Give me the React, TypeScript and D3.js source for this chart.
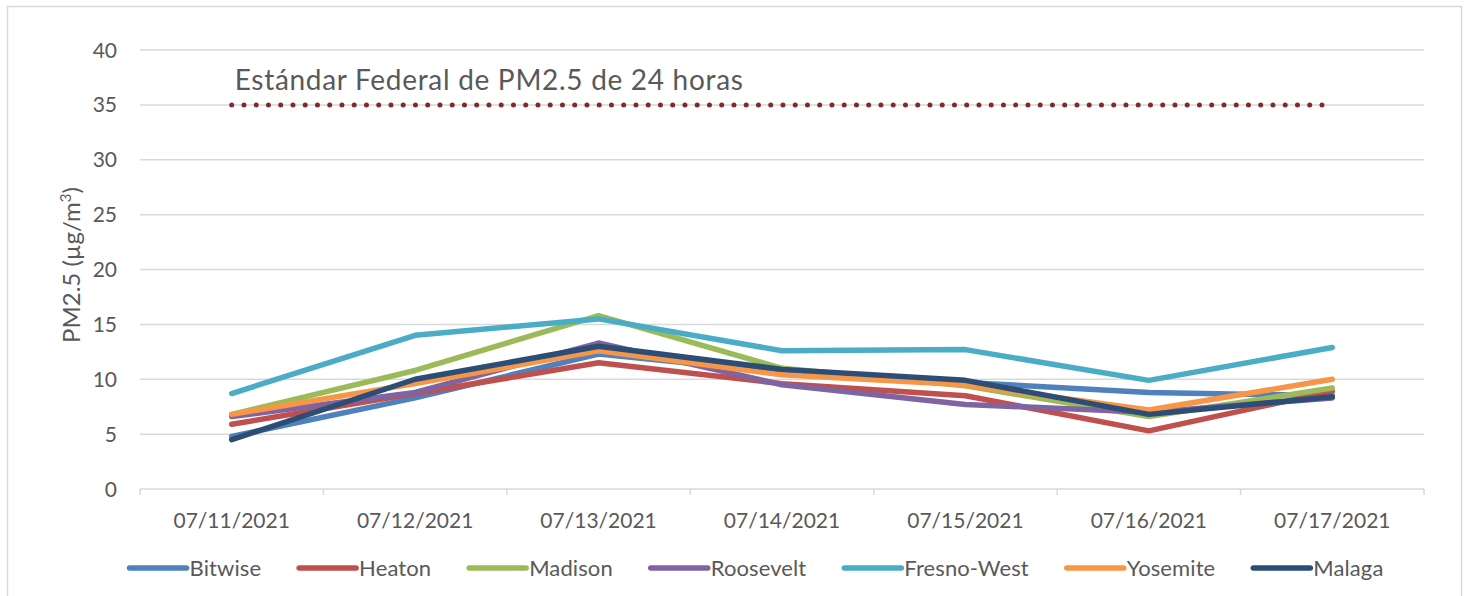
import React, { useRef, useEffect } from 'react';
import { select, scalePoint, scaleLinear, line, range } from 'd3';

const dates = ['07/11/2021', '07/12/2021', '07/13/2021', '07/14/2021', '07/15/2021', '07/16/2021', '07/17/2021'];
const yTicks = [0, 5, 10, 15, 20, 25, 30, 35, 40];

const bitwise = [4.8, 8.3, 12.3, 10.6, 9.7, 8.8, 8.5];
const heaton = [5.9, 8.7, 11.5, 9.6, 8.5, 5.3, 8.9];
const madison = [6.8, 10.8, 15.8, 11.0, 9.4, 6.6, 9.2];
const roosevelt = [6.6, 8.8, 13.3, 9.5, 7.7, 7.0, 8.3];
const fresnoWest = [8.7, 14.0, 15.5, 12.6, 12.7, 9.9, 12.9];
const yosemite = [6.8, 9.6, 12.6, 10.4, 9.5, 7.2, 10.0];
const malaga = [4.5, 10.0, 13.0, 10.9, 9.9, 6.8, 8.4];
const federalStandard = [35, 35, 35, 35, 35, 35, 35];

const seriesNames = ['Bitwise', 'Heaton', 'Madison', 'Roosevelt', 'Fresno-West', 'Yosemite', 'Malaga'];
const seriesValues = [bitwise, heaton, madison, roosevelt, fresnoWest, yosemite, malaga];
const seriesColors = ['#4F81BD', '#C0504D', '#9BBB59', '#8064A2', '#4BACC6', '#F79646', '#2C4D75'];

const standardLabel = 'Estándar Federal de PM2.5 de 24 horas';

const W = 1467;
const H = 596;
const margin = { left: 140, right: 43, top: 50, bottom: 107 };
const font = 'Lato, "Open Sans", sans-serif';
const textColor = '#595959';
const gridColor = '#D9D9D9';

const App: React.FC = () => {
  const svgRef = useRef<SVGSVGElement>(null);

  useEffect(() => {
    const svg = select(svgRef.current);
    svg.selectAll('*').remove();

    const x0 = margin.left;
    const x1 = W - margin.right;
    const y0 = H - margin.bottom;

    const x = scalePoint<string>().domain(dates).range([x0, x1]).padding(0.5);
    const step = x.step();
    const y = scaleLinear().domain([0, 40]).range([y0, margin.top]);

    // chart frame
    svg
      .append('rect')
      .attr('x', 7.5)
      .attr('y', 6.5)
      .attr('width', 1454)
      .attr('height', H + 10)
      .attr('fill', 'white')
      .attr('stroke', gridColor)
      .attr('stroke-width', 1.5);

    // gridlines
    svg
      .append('g')
      .selectAll('line')
      .data(yTicks)
      .join('line')
      .attr('x1', x0)
      .attr('x2', x1)
      .attr('y1', (d) => y(d))
      .attr('y2', (d) => y(d))
      .attr('stroke', gridColor)
      .attr('stroke-width', 1.5);

    // category tick marks
    svg
      .append('g')
      .selectAll('line')
      .data(range(dates.length + 1))
      .join('line')
      .attr('x1', (i) => x0 + i * step)
      .attr('x2', (i) => x0 + i * step)
      .attr('y1', y0)
      .attr('y2', y0 + 6)
      .attr('stroke', gridColor)
      .attr('stroke-width', 1.5);

    // y tick labels
    svg
      .append('g')
      .selectAll('text')
      .data(yTicks)
      .join('text')
      .attr('x', 117)
      .attr('y', (d) => y(d) + 7.5)
      .attr('text-anchor', 'end')
      .attr('font-family', font)
      .attr('font-size', 21)
      .attr('fill', textColor)
      .text((d) => d);

    // x tick labels
    svg
      .append('g')
      .selectAll('text')
      .data(dates)
      .join('text')
      .attr('x', (d) => x(d)!)
      .attr('y', 528)
      .attr('text-anchor', 'middle')
      .attr('font-family', font)
      .attr('font-size', 21)
      .attr('fill', textColor)
      .text((d) => d);

    // y axis title
    const yTitle = svg
      .append('text')
      .attr('transform', `translate(80,265) rotate(-90)`)
      .attr('text-anchor', 'middle')
      .attr('font-family', font)
      .attr('font-size', 24)
      .attr('fill', textColor);
    yTitle.append('tspan').text('PM2.5 (µg/m');
    yTitle.append('tspan').attr('font-size', 15).attr('dy', -9).text('3');
    yTitle.append('tspan').attr('dy', 9).text(')');

    // federal standard
    const lineGen = line<number>()
      .x((_, i) => x(dates[i])!)
      .y((d) => y(d));

    svg
      .append('path')
      .attr('d', lineGen(federalStandard))
      .attr('fill', 'none')
      .attr('stroke', '#7F2B2B')
      .attr('stroke-width', 5)
      .attr('stroke-linecap', 'round')
      .attr('stroke-dasharray', '0 12.25');

    svg
      .append('text')
      .attr('x', x(dates[0])! + 3)
      .attr('y', 90)
      .attr('font-family', font)
      .attr('font-size', 28)
      .attr('letter-spacing', 0.7)
      .attr('fill', textColor)
      .text(standardLabel);

    // series
    svg
      .append('g')
      .selectAll('path')
      .data(seriesValues)
      .join('path')
      .attr('d', (d) => lineGen(d))
      .attr('fill', 'none')
      .attr('stroke', (_, i) => seriesColors[i])
      .attr('stroke-width', 5.5)
      .attr('stroke-linecap', 'round')
      .attr('stroke-linejoin', 'round');

    // legend
    const legend = svg.append('g');
    const lineLen = 57;
    const items = legend
      .selectAll('g')
      .data(seriesNames)
      .join('g');
    items
      .append('line')
      .attr('x1', 0)
      .attr('x2', lineLen)
      .attr('y1', 0)
      .attr('y2', 0)
      .attr('stroke', (_, i) => seriesColors[i])
      .attr('stroke-width', 5.5)
      .attr('stroke-linecap', 'round');
    items
      .append('text')
      .attr('x', lineLen + 3)
      .attr('y', 8)
      .attr('font-family', font)
      .attr('font-size', 22)
      .attr('letter-spacing', 0.1)
      .attr('fill', textColor)
      .text((d) => d);

    const widths: number[] = [];
    items.each(function () {
      const t = select(this).select('text').node() as SVGTextElement;
      widths.push(lineLen + 3 + t.getComputedTextLength());
    });
    const gap = 38;
    const total = widths.reduce((a, b) => a + b, 0) + gap * (widths.length - 1);
    let cx = 756.5 - total / 2;
    items.attr('transform', (_, i) => {
      const tx = cx;
      cx += widths[i] + gap;
      return `translate(${tx},568)`;
    });
  }, []);

  return (
    <svg
      ref={svgRef}
      width={W}
      height={H}
      style={{ position: 'absolute', left: 0, top: 0, background: 'white' }}
    />
  );
};

export default App;
